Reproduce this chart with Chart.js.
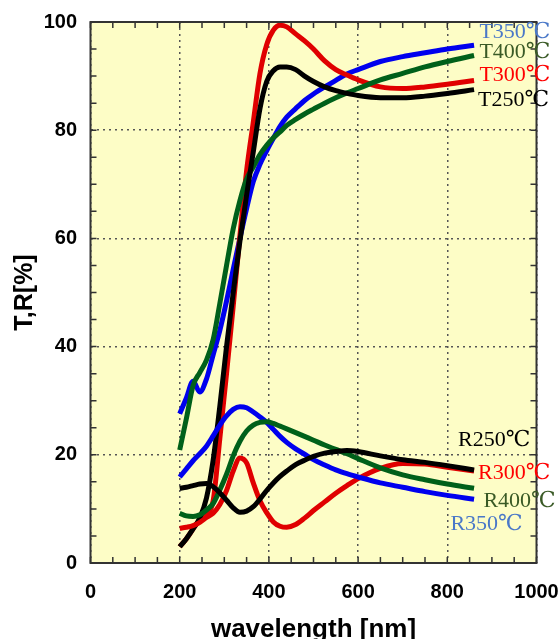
<!DOCTYPE html>
<html>
<head>
<meta charset="utf-8">
<script src="https://cdn.jsdelivr.net/npm/chart.js@4"></script>
<style>
  html, body { margin: 0; padding: 0; background: #fff; }
  #wrap { width: 559px; height: 639px; }
</style>
</head>
<body>
<div id="wrap"><canvas id="chart" width="559" height="639"></canvas></div>
<script>
// wavelength grid (nm) shared by all curves
const wavelength = [200, 215, 230, 245, 260, 275, 290, 305, 320, 335, 350, 365, 380, 395, 410,
  425, 440, 460, 480, 500, 525, 550, 575, 600, 650, 700, 750, 800, 860]

// transmittance [%]
const t250 = [3, 4.5, 6.3, 8.3, 12, 19, 29, 40, 50, 59.5, 68, 76, 84, 89, 91,
  91.7, 91.7, 91.2, 90, 89, 88, 87.3, 86.8, 86.4, 86.0, 86.0, 86.3, 86.8, 87.5]
const t300 = [3, 4.5, 6.3, 8, 9, 11.5, 23, 35, 47.5, 60.5, 72.5, 81.5, 90.5, 95.8, 98.5,
  99.4, 99.1, 97.8, 96.5, 95, 92.8, 91.2, 90.2, 89.3, 88, 87.7, 88, 88.5, 89.2]
const t350 = [27.6, 30.5, 33.6, 31.6, 34, 38.5, 43, 48.4, 54.3, 60, 65.5, 70.5, 73.7, 76.2, 78.5,
  80.7, 82.4, 84, 85.5, 86.7, 88, 89.2, 90.4, 91.2, 92.7, 93.6, 94.3, 95.0, 95.7]
const t400 = [20.9, 26.7, 32.8, 35.2, 37.5, 41.3, 48, 55, 61.8, 67, 71, 73.2, 75.5, 77.2, 78.6,
  79.7, 80.9, 82, 83, 83.9, 85, 86, 86.9, 87.7, 89.3, 90.5, 91.7, 92.7, 93.8]

// reflectance [%]
const r250 = [13.8, 14.0, 14.3, 14.6, 14.7, 14.1, 13, 11.6, 10.2, 9.4, 9.6, 10.4, 11.8, 13.4, 14.8,
  16, 17, 18.2, 19, 19.7, 20.3, 20.6, 20.8, 20.6, 19.8, 19.1, 18.6, 18.0, 17.2]
const r300 = [6.4, 6.6, 6.9, 7.5, 8.4, 9.2, 10.8, 13.4, 17, 19.4, 18.5, 14.8, 11.5, 9.3, 7.6,
  6.8, 6.6, 7.1, 8.3, 9.7, 11.3, 12.9, 14.3, 15.6, 17.5, 18.4, 18.3, 17.7, 17.0]
const r350 = [15.9, 17.4, 18.9, 20.2, 21.6, 23.5, 25.5, 27.2, 28.4, 28.9, 28.7, 27.9, 27, 26, 24.7,
  23.4, 22.3, 21.1, 20.1, 19.1, 18.1, 17.2, 16.5, 15.9, 14.8, 14, 13.2, 12.5, 11.8]
const r400 = [9.2, 8.7, 8.6, 8.9, 9.8, 11, 13.5, 16.4, 19.8, 22.5, 24.4, 25.5, 26, 26.1, 25.8,
  25.3, 24.8, 24.1, 23.4, 22.7, 21.8, 21, 20.2, 19.3, 17.6, 16.3, 15.4, 14.6, 13.8]

const xTicks = [0, 200, 400, 600, 800, 1000]
const yTicks = [0, 20, 40, 60, 80, 100]

// curve labels: text, anchor wavelength, anchor value, colour
const labelText = ['T350℃', 'T400℃', 'T300℃', 'T250℃', 'R250℃', 'R300℃', 'R400℃', 'R350℃']
const labelWl = [872, 872, 872, 869, 824, 869, 881, 807]
const labelVal = [98.2, 94.4, 90.1, 85.5, 22.7, 16.6, 11.5, 7.2]
const labelColor = ['#4a78c8', '#3a5a26', '#ff0000', '#000000', '#000000', '#ff0000', '#3a5a26', '#4a78c8']

function pts(vals) {
  return vals.map((v, i) => { return { x: wavelength[i], y: v } })
}

function series(label, vals, color) {
  return {
    label: label,
    data: pts(vals),
    borderColor: color,
    borderWidth: 5,
    pointRadius: 0,
    fill: false,
    cubicInterpolationMode: 'monotone'
  }
}

const frame = {
  id: 'frame',
  beforeDraw(chart) {
    const a = chart.chartArea
    const ctx = chart.ctx
    ctx.save()
    ctx.fillStyle = '#fdfdc6'
    ctx.fillRect(a.left, a.top, a.right - a.left, a.bottom - a.top)
    ctx.restore()
  },
  afterDatasetsDraw(chart) {
    const a = chart.chartArea
    const ctx = chart.ctx
    const xs = chart.scales.x, ys = chart.scales.y
    ctx.save()
    ctx.strokeStyle = '#333'
    ctx.lineWidth = 1.5
    ctx.beginPath()
    for (let v = 0; v <= 1000; v += 50) {
      const px = xs.getPixelForValue(v)
      ctx.moveTo(px, a.bottom); ctx.lineTo(px, a.bottom - 6)
      ctx.moveTo(px, a.top); ctx.lineTo(px, a.top + 6)
    }
    for (let v = 0; v <= 100; v += 5) {
      const py = ys.getPixelForValue(v)
      ctx.moveTo(a.left, py); ctx.lineTo(a.left + 6, py)
      ctx.moveTo(a.right, py); ctx.lineTo(a.right - 6, py)
    }
    ctx.stroke()
    ctx.lineWidth = 2
    ctx.strokeRect(a.left, a.top, a.right - a.left, a.bottom - a.top)

    ctx.font = '22px "Liberation Serif", "DejaVu Serif", serif'
    ctx.textAlign = 'left'
    ctx.textBaseline = 'middle'
    labelText.forEach((t, i) => {
      ctx.fillStyle = labelColor[i]
      ctx.fillText(t, xs.getPixelForValue(labelWl[i]), ys.getPixelForValue(labelVal[i]))
    })
    ctx.restore()
  }
}

const gridStyle = {
  color: '#555',
  lineWidth: 1.5,
  drawTicks: false
}

new Chart(document.getElementById('chart').getContext('2d'), {
  type: 'line',
  data: {
    datasets: [
      series('R250', r250, '#000000'),
      series('R400', r400, '#00601a'),
      series('R350', r350, '#0000ee'),
      series('R300', r300, '#e00000'),
      series('T250', t250, '#000000'),
      series('T400', t400, '#00601a'),
      series('T300', t300, '#e00000'),
      series('T350', t350, '#0000ee')
    ]
  },
  options: {
    responsive: false,
    animation: false,
    layout: { padding: { top: 22, right: 22.5, left: 0, bottom: 0 } },
    plugins: { legend: { display: false }, tooltip: { enabled: false } },
    scales: {
      x: {
        type: 'linear',
        min: 0, max: 1000,
        afterBuildTicks: s => { s.ticks = xTicks.map(v => ({ value: v })) },
        afterFit: s => { s.height = 76; s.paddingLeft = 0; s.paddingRight = 0 },
        grid: gridStyle,
        border: { display: false, dash: [2, 4] },
        ticks: {
          padding: 17, color: '#000', maxRotation: 0,
          callback: v => String(v),
          font: { family: 'Liberation Sans, Arial', size: 20, weight: 'bold' }
        },
        title: {
          display: true, text: 'wavelength [nm]', color: '#000',
          padding: { top: 0, bottom: -6 },
          font: { family: 'Liberation Sans, Arial', size: 26, weight: 'bold' }
        }
      },
      y: {
        min: 0, max: 100,
        afterBuildTicks: s => { s.ticks = yTicks.map(v => ({ value: v })) },
        afterFit: s => { s.width = 90.5; s.paddingTop = 0; s.paddingBottom = 0 },
        grid: gridStyle,
        border: { display: false, dash: [2, 4] },
        ticks: { padding: 13.5, color: '#000', font: { family: 'Liberation Sans, Arial', size: 20, weight: 'bold' } },
        title: {
          display: true, text: 'T,R[%]', color: '#000',
          padding: { top: 10, bottom: 0 },
          font: { family: 'Liberation Sans, Arial', size: 25, weight: 'bold' }
        }
      }
    }
  },
  plugins: [frame]
})
</script>
</body>
</html>
